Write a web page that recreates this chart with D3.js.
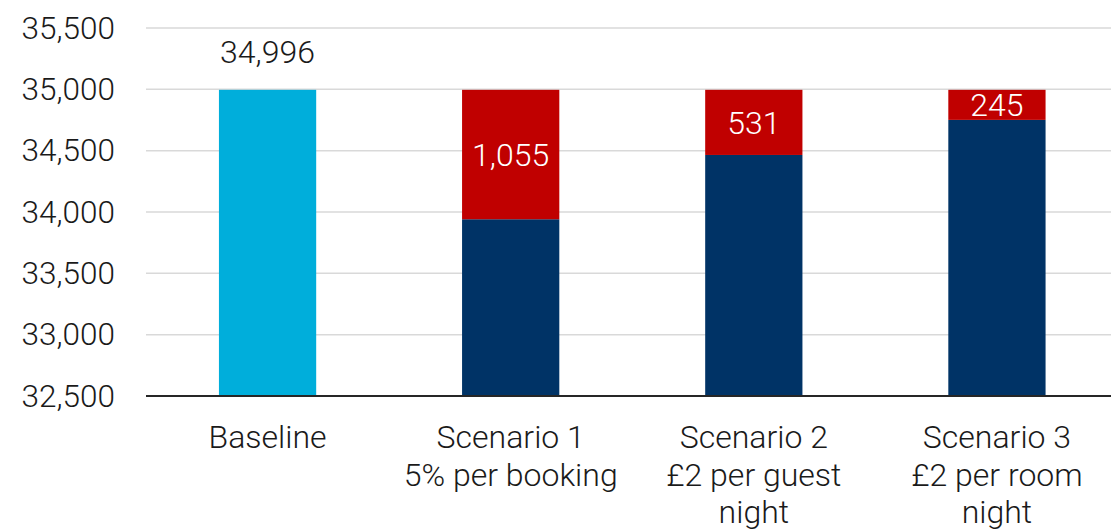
<!DOCTYPE html>
<html>
<head>
<meta charset="utf-8">
<script src="https://cdn.jsdelivr.net/npm/d3@7"></script>
<style>
  html, body { margin: 0; padding: 0; background: #fff; }
  svg { display: block; font-family: Roboto, "Noto Sans", sans-serif; font-weight: 300; }
</style>
</head>
<body>
<svg id="chart" width="1111" height="529"></svg>
<script>
// Categories (each label may wrap onto several lines)
const categories = ["Baseline", "Scenario 1", "Scenario 2", "Scenario 3"];
const categoryLines = [
  ["Baseline"],
  ["Scenario 1", "5% per booking"],
  ["Scenario 2", "£2 per guest", "night"],
  ["Scenario 3", "£2 per room", "night"]
];
// Baseline total and the reduction under each scenario
const baselineValue = 34996;
const reductions = [0, 1055, 531, 245];
const yTicks = [32500, 33000, 33500, 34000, 34500, 35000, 35500];

const colors = { baseline: "#00AEDB", remaining: "#003366", reduction: "#C00000" };

const svg = d3.select("#chart");
const W = 1111, H = 529;
const plot = { left: 146, right: 1118.5, top: 28, bottom: 396 };

const x = d3.scaleBand()
  .domain(categories)
  .range([plot.left, plot.right])
  .paddingInner(0.6)
  .paddingOuter(0.3);

const y = d3.scaleLinear()
  .domain([32500, 35500])
  .range([plot.bottom, plot.top]);

const fmt = d3.format(",");

// Horizontal gridlines
svg.append("g")
  .selectAll("line")
  .data(yTicks.filter(d => d !== 32500))
  .join("line")
  .attr("x1", plot.left).attr("x2", W)
  .attr("y1", d => y(d)).attr("y2", d => y(d))
  .attr("stroke", "#D9D9D9").attr("stroke-width", 1.5);

// Y axis labels
const yAxis = d3.axisLeft(y).tickValues(yTicks).tickFormat(fmt).tickSize(0).tickPadding(31);
const gy = svg.append("g").attr("transform", `translate(${plot.left},0)`).call(yAxis);
gy.select(".domain").remove();
gy.selectAll("text")
  .attr("font-size", 31.5).attr("font-family", "Roboto").attr("font-weight", 300)
  .attr("fill", "#1a1a1a");

// Bars
const rows = categories.map((c, i) => ({
  cat: c,
  total: baselineValue,
  reduction: reductions[i],
  remaining: baselineValue - reductions[i]
}));

const bars = svg.append("g");
// lower segment: baseline (light blue) or remaining value after reduction (navy)
bars.selectAll("rect.lower")
  .data(rows)
  .join("rect")
  .attr("class", "lower")
  .attr("x", d => x(d.cat))
  .attr("width", x.bandwidth())
  .attr("y", d => y(d.remaining))
  .attr("height", d => y(32500) - y(d.remaining))
  .attr("fill", d => d.reduction === 0 ? colors.baseline : colors.remaining);

// upper segment: reduction (red)
bars.selectAll("rect.upper")
  .data(rows.filter(d => d.reduction > 0))
  .join("rect")
  .attr("class", "upper")
  .attr("x", d => x(d.cat))
  .attr("width", x.bandwidth())
  .attr("y", d => y(d.total))
  .attr("height", d => y(d.remaining) - y(d.total))
  .attr("fill", colors.reduction);

// Value labels
svg.append("g")
  .selectAll("text")
  .data(rows)
  .join("text")
  .attr("x", d => x(d.cat) + x.bandwidth() / 2)
  .attr("y", d => d.reduction === 0 ? y(d.total) - 38 : (y(d.total) + y(d.remaining)) / 2)
  .attr("dy", "0.35em")
  .attr("text-anchor", "middle")
  .attr("font-size", 32)
  .attr("fill", d => d.reduction === 0 ? "#1a1a1a" : "#ffffff")
  .text(d => fmt(d.reduction === 0 ? d.total : d.reduction));

// X axis line
svg.append("line")
  .attr("x1", plot.left).attr("x2", W)
  .attr("y1", y(32500)).attr("y2", y(32500))
  .attr("stroke", "#262626").attr("stroke-width", 2);

// Category labels
const xl = svg.append("g");
categories.forEach((c, i) => {
  const t = xl.append("text")
    .attr("x", x(c) + x.bandwidth() / 2)
    .attr("y", 437)
    .attr("text-anchor", "middle")
    .attr("font-size", 32)
    .attr("fill", "#1a1a1a");
  categoryLines[i].forEach((line, j) => {
    t.append("tspan")
      .attr("x", x(c) + x.bandwidth() / 2)
      .attr("dy", j === 0 ? "0.35em" : "1.17em")
      .text(line);
  });
});
</script>
</body>
</html>
